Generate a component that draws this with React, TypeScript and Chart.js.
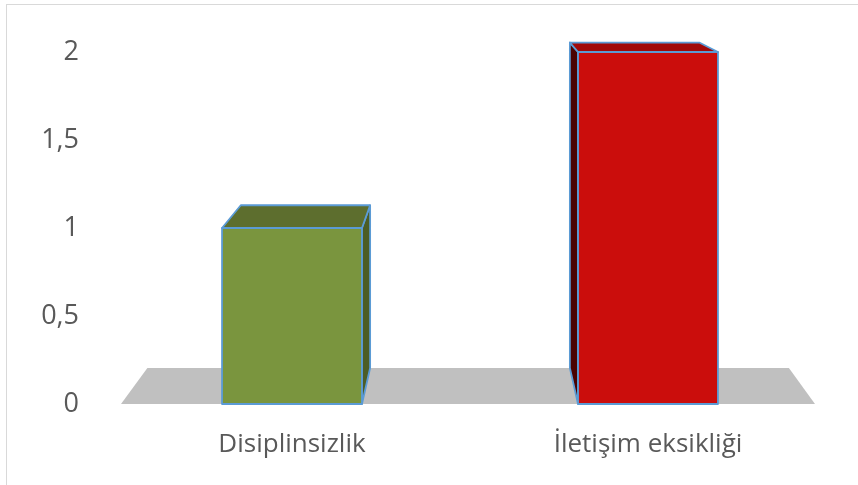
import React, { useEffect, useRef } from "react";
import { Chart, registerables } from "chart.js";

Chart.register(...registerables);

const categories = ["Disiplinsizlik", "İletişim eksikliği"];
const values = [1, 2];
const yMin = 0;
const yMax = 2;
const yStep = 0.5;

const frontColors = ["#7a953e", "#cb0d0c"];
const topColors = ["#5d6e2e", "#a10909"];
const sideColors = ["#4c5d25", "#4a0202"];
const edgeColor = "#5b9bd5";
const floorColor = "#c0c0c0";

const FONT = "'Open Sans', 'Noto Sans', sans-serif";

const threeD = {
  id: "threeD",
  beforeDatasetsDraw(chart: any) {
    const { ctx, chartArea, scales } = chart;
    const vx = (chartArea.left + chartArea.right) / 2;
    const vy = chartArea.top - 125;
    const t = 0.0756;
    const P = (x: number, y: number) => [x + (vx - x) * t, y + (vy - y) * t];
    const y0 = scales.y.getPixelForValue(0);
    const xl = chartArea.left + 7;
    const xr = chartArea.right - 11;
    const a = P(xl, y0);
    const b = P(xr, y0);
    ctx.save();
    ctx.fillStyle = floorColor;
    ctx.beginPath();
    ctx.moveTo(xl, y0);
    ctx.lineTo(xr, y0);
    ctx.lineTo(b[0], b[1]);
    ctx.lineTo(a[0], a[1]);
    ctx.closePath();
    ctx.fill();
    ctx.restore();
  },
  afterDatasetsDraw(chart: any) {
    const { ctx, chartArea } = chart;
    const vx = (chartArea.left + chartArea.right) / 2;
    const vy = chartArea.top - 125;
    const t = 0.0756;
    const P = (x: number, y: number) => [x + (vx - x) * t, y + (vy - y) * t];
    const meta = chart.getDatasetMeta(0);
    ctx.save();
    ctx.lineJoin = "round";
    ctx.lineWidth = 1.8;
    ctx.strokeStyle = edgeColor;
    meta.data.forEach((el: any, i: number) => {
      const { x, y, base, width } = el.getProps(["x", "y", "base", "width"], true);
      const l = x - width / 2;
      const r = x + width / 2;
      const top = y;
      const bot = base;
      const poly = (pts: number[][], fill: string) => {
        ctx.beginPath();
        ctx.moveTo(pts[0][0], pts[0][1]);
        for (let k = 1; k < pts.length; k++) ctx.lineTo(pts[k][0], pts[k][1]);
        ctx.closePath();
        ctx.fillStyle = fill;
        ctx.fill();
        ctx.stroke();
      };
      if (r < vx) {
        poly([[r, top], P(r, top), P(r, bot), [r, bot]], sideColors[i]);
      } else if (l > vx) {
        poly([[l, top], P(l, top), P(l, bot), [l, bot]], sideColors[i]);
      }
      poly([[l, top], [r, top], P(r, top), P(l, top)], topColors[i]);
      poly([[l, top], [r, top], [r, bot], [l, bot]], frontColors[i]);
    });
    ctx.restore();
  },
};

export default function App() {
  const ref = useRef<HTMLCanvasElement>(null);
  useEffect(() => {
    if (!ref.current) return;
    const chart = new Chart(ref.current, {
      type: "bar",
      data: {
        labels: categories,
        datasets: [
          {
            data: values,
            backgroundColor: "rgba(0,0,0,0)",
            borderWidth: 0,
            barPercentage: 1,
            categoryPercentage: 0.393,
          },
        ],
      },
      options: {
        animation: false,
        responsive: false,
        devicePixelRatio: 1,
        layout: { padding: { left: 0, right: 32, top: 52, bottom: 0 } },
        plugins: { legend: { display: false }, tooltip: { enabled: false } },
        scales: {
          x: {
            grid: { display: false, drawTicks: false },
            border: { display: false },
            ticks: { color: "#595959", font: { family: FONT, size: 26 }, padding: 25 },
            afterFit: (s: any) => {
              s.height = 81;
              s.paddingLeft = 0;
              s.paddingRight = 0;
            },
          },
          y: {
            min: yMin,
            max: yMax,
            grid: { display: false, drawTicks: false },
            border: { display: false },
            ticks: {
              stepSize: yStep,
              color: "#595959",
              font: { family: FONT, size: 27 },
              padding: 35,
              callback: (v: any) => String(v).replace(".", ","),
            },
            afterFit: (s: any) => {
              s.width = 114;
              s.paddingTop = 0;
              s.paddingBottom = 0;
            },
          },
        },
      },
      plugins: [threeD],
    });
    return () => chart.destroy();
  }, []);
  return (
    <div style={{ position: "fixed", left: 0, top: 0, width: 858, height: 485, background: "#fff", overflow: "hidden" }}>
      <div
        style={{
          position: "absolute",
          left: 6,
          top: 4,
          width: 900,
          height: 600,
          borderLeft: "1px solid #d9d9d9",
          borderTop: "1px solid #d9d9d9",
        }}
      />
      <canvas ref={ref} width={858} height={485} style={{ position: "absolute", left: 0, top: 0 }} />
    </div>
  );
}
